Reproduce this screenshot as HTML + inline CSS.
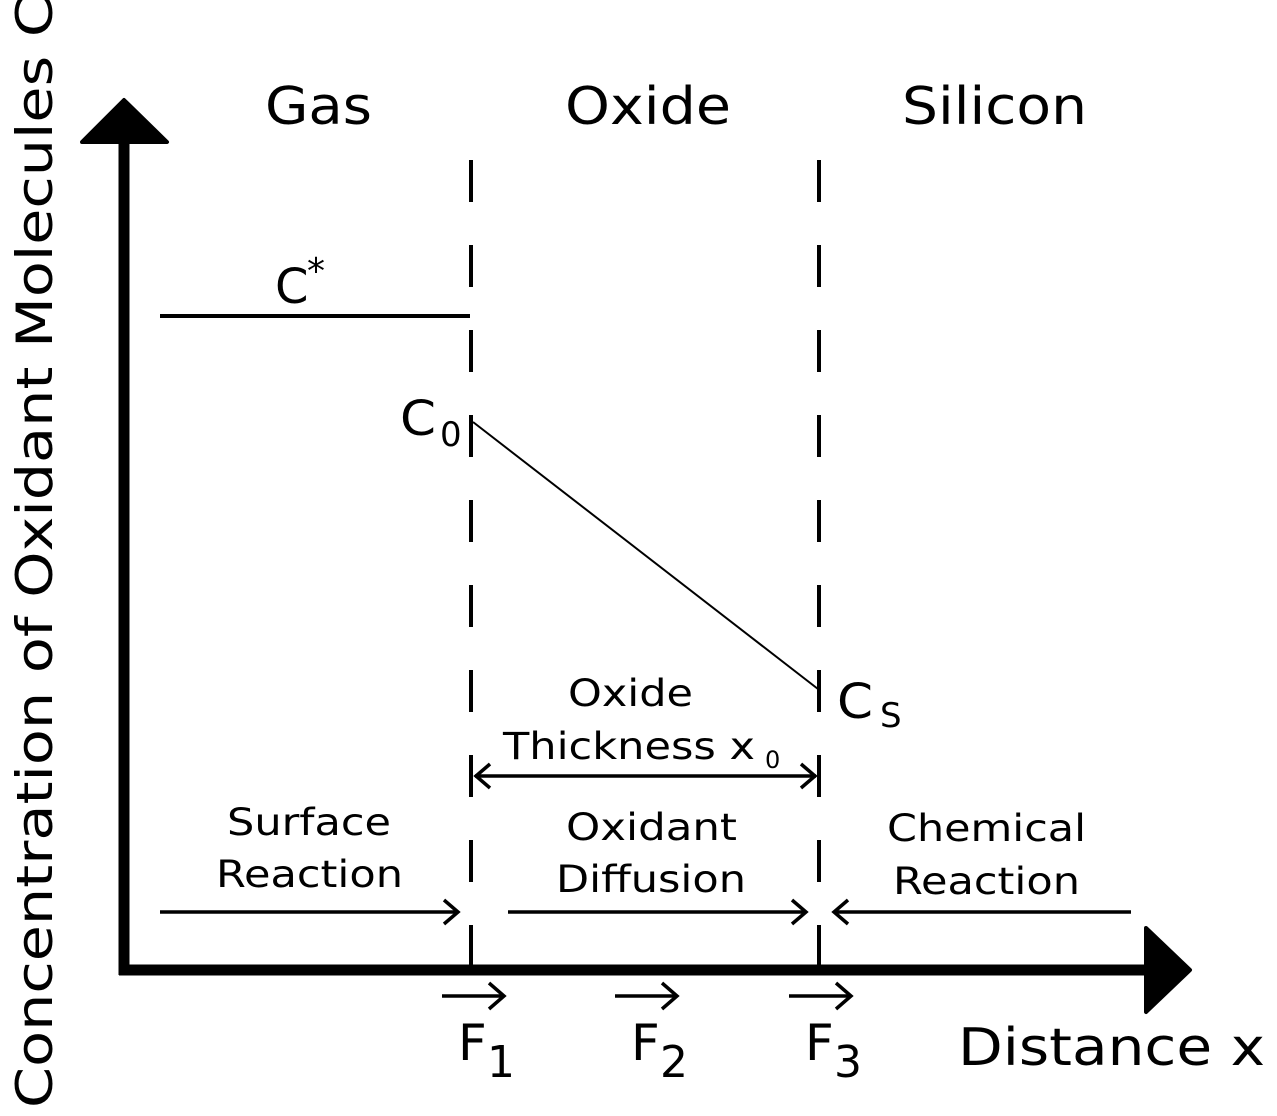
<!DOCTYPE html>
<html><head><meta charset="utf-8"><style>
html,body{margin:0;padding:0;background:#fff;}
svg{display:block;}
text{font-family:"DejaVu Sans","Liberation Sans",sans-serif;fill:#000;}
</style></head><body>
<svg width="1277" height="1116" viewBox="0 0 1277 1116" xmlns="http://www.w3.org/2000/svg">
<g stroke="#000" fill="none">
<line x1="124" y1="140" x2="124" y2="975" stroke-width="11"/>
<line x1="119" y1="970" x2="1150" y2="970" stroke-width="11"/>
</g>
<polygon points="124,100 167,142 82,142" fill="#000" stroke="#000" stroke-width="4" stroke-linejoin="round"/>
<polygon points="1190,970 1146,1012 1146,928" fill="#000" stroke="#000" stroke-width="4" stroke-linejoin="round"/>
<g stroke="#000" stroke-width="4" fill="none">
<line x1="471" y1="160" x2="471" y2="970" stroke-dasharray="42 43"/>
<line x1="819" y1="160" x2="819" y2="970" stroke-dasharray="42 43"/>
<line x1="160" y1="316" x2="470" y2="316"/>
</g>
<line x1="473" y1="422" x2="818" y2="689" stroke="#000" stroke-width="2"/>
<g stroke="#000" stroke-width="3.5" fill="none">
<line x1="475" y1="776" x2="816" y2="776"/>
<polyline points="490,764 476,776 490,788"/>
<polyline points="801,764 815,776 801,788"/>
<line x1="160" y1="912" x2="458" y2="912"/>
<polyline points="444,900 458,912 444,924"/>
<line x1="508" y1="912" x2="806" y2="912"/>
<polyline points="792,900 806,912 792,924"/>
<line x1="834" y1="912" x2="1131" y2="912"/>
<polyline points="848,900 834,912 848,924"/>
<line x1="442" y1="996" x2="504" y2="996"/>
<polyline points="489,983 504,996 489,1009"/>
<line x1="615" y1="996" x2="677" y2="996"/>
<polyline points="662,983 677,996 662,1009"/>
<line x1="789" y1="996" x2="851" y2="996"/>
<polyline points="836,983 851,996 836,1009"/>
</g>
<g lengthAdjust="spacingAndGlyphs">
<text x="265" y="124" font-size="52" textLength="107" lengthAdjust="spacingAndGlyphs">Gas</text>
<text x="565" y="124" font-size="52" textLength="166" lengthAdjust="spacingAndGlyphs">Oxide</text>
<text x="902" y="124" font-size="52" textLength="185" lengthAdjust="spacingAndGlyphs">Silicon</text>
<text x="275" y="303" font-size="48">C</text><text x="307" y="283" font-size="36">*</text>
<text x="400" y="435" font-size="48" textLength="36" lengthAdjust="spacingAndGlyphs">C</text><text x="440" y="446" font-size="34">0</text>
<text x="837" y="718" font-size="48" textLength="36" lengthAdjust="spacingAndGlyphs">C</text><text x="880" y="727" font-size="34">S</text>
<text x="568" y="706" font-size="37" textLength="125" lengthAdjust="spacingAndGlyphs">Oxide</text>
<text x="503" y="759" font-size="37" textLength="252" lengthAdjust="spacingAndGlyphs">Thickness x</text><text x="765" y="768" font-size="24">0</text>
<text x="227" y="835" font-size="37" textLength="164" lengthAdjust="spacingAndGlyphs">Surface</text>
<text x="216" y="887" font-size="37" textLength="187" lengthAdjust="spacingAndGlyphs">Reaction</text>
<text x="566" y="840" font-size="37" textLength="171" lengthAdjust="spacingAndGlyphs">Oxidant</text>
<text x="556" y="892" font-size="37" textLength="190" lengthAdjust="spacingAndGlyphs">Diffusion</text>
<text x="887" y="841" font-size="37" textLength="199" lengthAdjust="spacingAndGlyphs">Chemical</text>
<text x="893" y="894" font-size="37" textLength="187" lengthAdjust="spacingAndGlyphs">Reaction</text>
<text x="458" y="1060" font-size="50">F</text><text x="487" y="1077" font-size="44">1</text>
<text x="631" y="1060" font-size="50">F</text><text x="660" y="1077" font-size="44">2</text>
<text x="805" y="1060" font-size="50">F</text><text x="834" y="1077" font-size="44">3</text>
<text x="958" y="1065" font-size="52" textLength="307" lengthAdjust="spacingAndGlyphs">Distance x</text>
<text transform="translate(52,1108) rotate(-90)" font-size="50" textLength="1112" lengthAdjust="spacingAndGlyphs">Concentration of Oxidant Molecules C</text>
</g>
</svg>
</body></html>
